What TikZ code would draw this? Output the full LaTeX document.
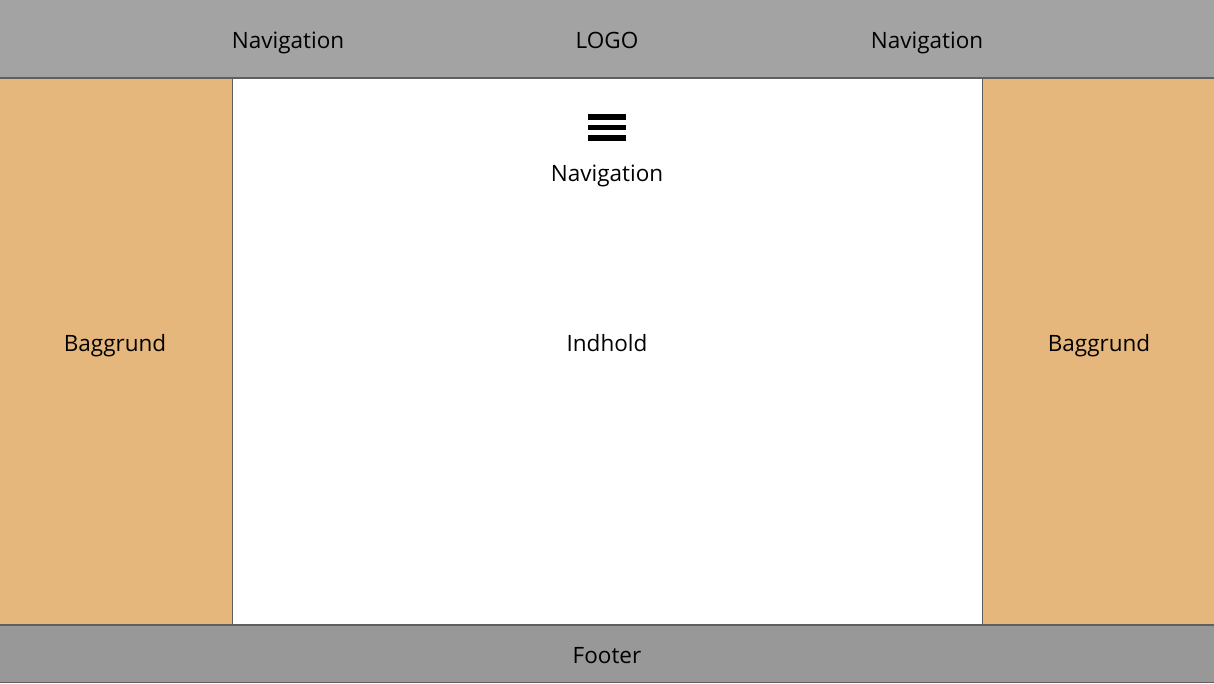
\documentclass[tikz,border=0pt]{standalone}
\usepackage{fontspec}
\setmainfont{Open Sans}
\usepackage{tikz}
\usetikzlibrary{positioning}

\definecolor{headgray}{HTML}{A3A3A3}
\definecolor{footgray}{HTML}{989898}
\definecolor{bgorange}{HTML}{E5B77D}
\definecolor{edgegray}{HTML}{5F5F5F}

\begin{document}
\begin{tikzpicture}[x=1pt, y=-1pt,
        lab/.style={font=\fontsize{22.5}{27}\selectfont, text=black, inner sep=0pt, anchor=base},
        bar/.style={fill=black, draw=none}
    ]
    \useasboundingbox (0,0) rectangle (1214,683);

    % areas
    \fill[headgray] (0,0) rectangle (1214,78);
    \fill[bgorange] (0,78) rectangle (232,625);
    \fill[bgorange] (982,78) rectangle (1214,625);
    \fill[white] (232,78) rectangle (982,625);
    \fill[footgray] (0,625) rectangle (1214,683);
    \draw[edgegray, line width=0.8pt] (232,78) -- (232,625);
    \draw[edgegray, line width=0.8pt] (982,78) -- (982,625);
    \draw[edgegray, line width=1.5pt] (0,78) -- (1214,78);
    \draw[edgegray, line width=1.5pt] (0,625) -- (1214,625);
    \draw[edgegray, line width=1.2pt] (0,682.4) -- (1214,682.4);

    % header
    \node[lab] (navleft) at (288,48) {Navigation};
    \node[lab] (logo) at (607,48) {LOGO};
    \node[lab] (navright) at (927,48) {Navigation};

    % hamburger
    \foreach \y in {117,127.5,138}
        \fill[bar] (588,\y-2.6) rectangle (626,\y+2.6);
    \node[lab] (navmenu) at (607,181) {Navigation};

    % content and sides
    \node[lab] (content) at (607,351) {Indhold};
    \node[lab] (bgleft) at (115,351) {Baggrund};
    \node[lab] (bgright) at (1099,351) {Baggrund};

    % footer
    \node[lab] (footer) at (607,663) {Footer};
\end{tikzpicture}
\end{document}
